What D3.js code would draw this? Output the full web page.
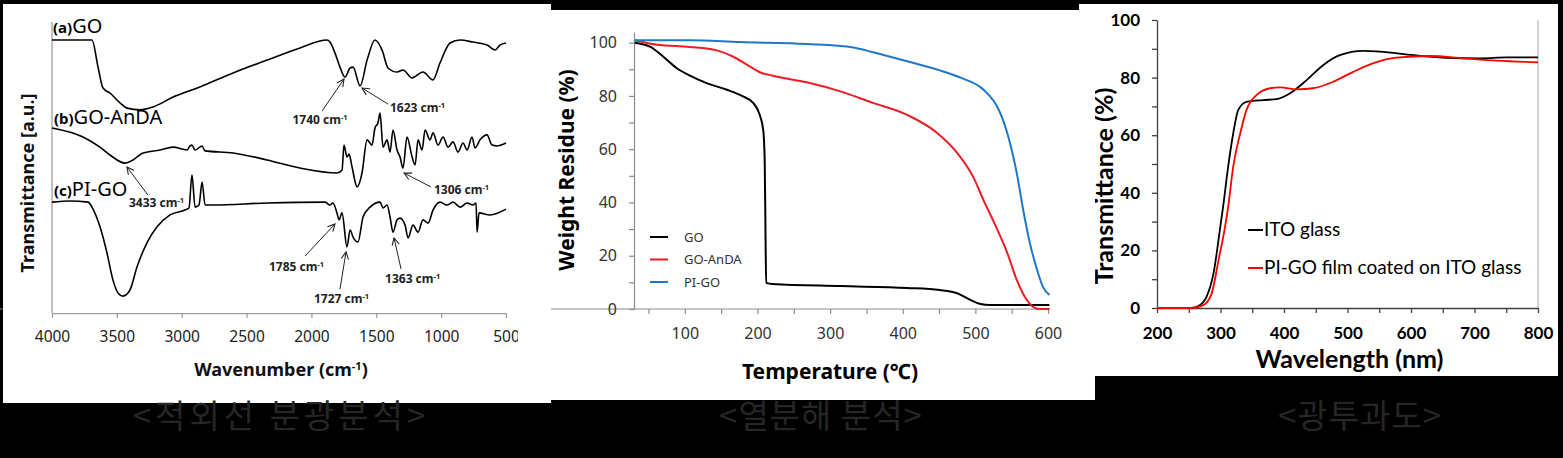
<!DOCTYPE html>
<html>
<head>
<meta charset="utf-8">
<script src="https://d3js.org/d3.v7.min.js"></script>
<style>
  body { margin: 0; background: #000; }
  svg { display: block; }
</style>
</head>
<body>
<svg id="fig" width="1563" height="458"></svg>
<script>
// ---------------- data ----------------
// FTIR spectra: [wavenumber (cm-1), transmittance (a.u., offset stack)]
var irGO = [[4000,93.8],[3692,93.8],[3645,84.5],[3607,77.3],[3553,75.6],[3476,72.2],[3422,70.4],
  [3322,69.8],[3221,70.8],[3067,74.2],[2859,77.7],[2604,82.5],[2342,86.9],[2088,91.1],[1880,93.8],
  [1857,93.1],[1818,89.3],[1780,84.5],[1741,81.1],[1702,84.2],[1679,84.5],[1625,78.0],[1571,86.9],
  [1510,93.8],[1456,90.4],[1409,84.2],[1340,82.8],[1294,83.5],[1224,80.8],[1140,82.8],[1063,80.1],
  [1009,85.9],[931,92.8],[854,93.8],[754,93.1],[646,92.1],[584,90.4],[546,92.1],[500,92.8]];
var irGOAnDA = [[4000,63.6],[3761,60.5],[3630,57.0],[3553,54.3],[3437,51.5],[3375,52.6],[3298,55.0],
  [3167,56.0],[3067,57.0],[2959,56.0],[2936,57.4],[2921,57.7],[2897,56.0],[2843,57.4],[2820,55.7],
  [2604,55.0],[2342,52.6],[2088,49.8],[1803,48.1],[1764,49.1],[1749,57.7],[1726,53.6],[1710,54.6],
  [1687,50.2],[1648,43.3],[1610,48.1],[1571,59.5],[1533,57.7],[1510,63.6],[1487,65.3],[1471,68.7],
  [1448,57.0],[1417,59.5],[1394,55.3],[1371,62.9],[1340,56.0],[1317,53.6],[1294,49.8],[1263,60.5],
  [1224,53.6],[1201,50.9],[1178,59.5],[1147,56.0],[1124,62.9],[1086,59.5],[1062,61.9],[1024,57.7],
  [985,60.5],[947,57.0],[908,58.8],[870,55.3],[831,58.4],[800,56.0],[762,60.5],[739,56.7],[700,59.5],
  [646,61.2],[608,57.7],[569,57.4],[500,58.4]];
var irPIGO = [[4000,38.1],[3861,38.5],[3722,38.1],[3692,36.4],[3630,29.6],[3576,20.6],[3530,11.3],
  [3491,6.9],[3453,5.8],[3399,7.9],[3345,15.8],[3268,24.1],[3190,29.6],[3090,33.7],[2975,35.4],
  [2944,36.1],[2921,47.4],[2897,36.4],[2867,37.1],[2843,45.0],[2820,37.1],[2759,37.1],[2342,37.8],
  [1895,38.1],[1857,37.1],[1834,37.8],[1803,34.4],[1787,32.0],[1764,34.4],[1726,22.7],[1702,28.5],
  [1679,26.1],[1641,24.4],[1602,33.0],[1548,36.4],[1471,38.1],[1448,36.1],[1417,37.1],[1394,33.0],
  [1371,27.8],[1340,32.0],[1317,32.6],[1278,30.2],[1255,25.8],[1217,30.2],[1178,27.8],[1140,32.0],
  [1101,30.9],[1062,35.4],[1009,38.1],[955,37.1],[908,38.1],[854,36.4],[800,37.8],[754,37.1],
  [731,37.8],[723,27.8],[708,34.4],[623,33.7],[500,35.7]];
var irTicks = [4000, 3500, 3000, 2500, 2000, 1500, 1000, 500];
// series labels: [part, name, wavenumber, a.u.]
var irLabels = [["(a)", "GO", 3992, 96.2], ["(b)", "GO-AnDA", 3985, 65.0], ["(c)", "PI-GO", 3985, 40.2]];
// peak notes: [peak, text wn, text au, arrow from wn, au, arrow to wn, au]
var irPeaks = [[1740, 1934, 65.0, 1918, 69.4, 1749, 80.4],
  [1623, 1182, 69.1, 1409, 71.8, 1610, 77.3],
  [3433, 3194, 36.4, 3260, 40.5, 3422, 50.2],
  [1306, 843, 40.9, 1078, 43.3, 1286, 48.1],
  [1785, 2115, 14.4, 2049, 19.6, 1818, 30.6],
  [1727, 1768, 3.4, 1780, 8.2, 1733, 21.0],
  [1363, 1220, 10.3, 1309, 15.1, 1363, 25.8]];

// TGA: [temperature (C), weight residue (%)]
var tgaGO = [[31,100],[52,98.5],[70,94.8],[89,90.4],[107,87.6],[130,84.8],[158,82.3],[180,79.8],
  [194,77.4],[203,73.0],[208,67.0],[210,55.0],[211,30.0],[212,9.8],[221,9.4],[314,8.6],[406,7.9],
  [451,7.1],[475,5.9],[493,3.4],[507,1.9],[520,1.5],[602,1.5]];
var tgaGOAnDA = [[31,100.9],[62,99.2],[107,98.4],[144,97.1],[166,94.8],[186,91.7],[204,88.8],
  [221,87.6],[268,85.1],[314,81.7],[359,77.4],[406,72.9],[447,66.2],[475,58.6],[497,49.6],
  [511,41.0],[524,33.5],[544,21.0],[557,10.9],[569,4.1],[578,1.1],[585,0.1],[602,0]];
var tgaPIGO = [[31,100.9],[107,100.9],[176,100.2],[268,99.5],[332,98.2],[359,96.4],[406,93.0],
  [451,89.6],[483,86.5],[507,83.3],[518,80.5],[530,76.0],[544,66.0],[557,51.0],[566,37.0],
  [575,24.8],[585,14.7],[593,8.3],[602,5.3]];
var tgaNames = ["GO", "GO-AnDA", "PI-GO"];
var tgaColors = ["#000000", "#ee1c25", "#1f78c6"];

// UV-Vis: [wavelength (nm), transmittance (%)]
var uvITO = [[200,0],[252,0],[265,0.7],[278,3.9],[289,12],[299,27],[304,35],[312,49],[320,60.6],
  [328,68.8],[341,71.6],[367,72.2],[388,72.5],[409,74.5],[436,79.2],[462,84.4],[488,87.8],
  [525,89.3],[551,89.0],[604,87.8],[656,86.9],[709,86.7],[751,87.0],[800,87.0]];
var uvPIGO = [[200,0],[255,0],[273,1],[286,5],[297,16.7],[307,28],[312,35],[320,49],[331,60.6],
  [341,68.8],[357,74],[378,76.3],[394,76.6],[420,75.9],[446,76.3],[478,78.6],[509,82],[541,85],
  [577,86.9],[630,87.5],[682,86.7],[735,85.9],[800,85.3]];
var uvNames = ["ITO glass", "PI-GO film coated on ITO glass"];
var uvColors = ["#000000", "#ff0000"];

var captions = ["<적외선 분광분석>", "<열분해 분석>", "<광투과도>"];

// ---------------- helpers ----------------
var KR = "'Noto Sans', 'Noto Sans CJK KR', sans-serif";
var CAL = "Lato, 'Open Sans', sans-serif";

var svg = d3.select("#fig");
svg.append("rect").attr("width", 1563).attr("height", 458).attr("fill", "#000");

var defs = svg.append("defs");
defs.append("marker").attr("id", "arrow")
  .attr("viewBox", "0 0 10 10").attr("refX", 9).attr("refY", 5)
  .attr("markerWidth", 9).attr("markerHeight", 9).attr("markerUnits", "userSpaceOnUse")
  .attr("orient", "auto")
  .append("path").attr("d", "M1,1 L9,5 L1,9").attr("fill", "none")
  .attr("stroke", "#222").attr("stroke-width", 1.2);
defs.append("clipPath").attr("id", "clip1")
  .append("rect").attr("x", 0).attr("y", 0).attr("width", 518).attr("height", 458);

function lineGen(x, y) {
  return d3.line().x(function(d){ return x(d[0]); }).y(function(d){ return y(d[1]); })
    .curve(d3.curveMonotoneX);
}

function cm(sel, txt) {
  sel.append("tspan").text(txt + " cm");
  sel.append("tspan").attr("dy", -4).attr("font-size", "0.62em").text("-1");
}

// ---------------- panel 3: UV-Vis ----------------
var p3 = svg.append("g");
p3.append("rect").attr("x", 1079).attr("y", 4).attr("width", 479).attr("height", 372).attr("fill", "#fff");

var x3 = d3.scaleLinear().domain([200, 800]).range([1157, 1538]);
var y3 = d3.scaleLinear().domain([0, 100]).range([308, 20]);

p3.append("line").attr("x1", x3(800)).attr("x2", x3(800)).attr("y1", y3(100)).attr("y2", y3(0))
  .attr("stroke", "#a6a6a6");

var ax3 = p3.append("g").attr("transform", "translate(0," + y3(0) + ")")
  .call(d3.axisBottom(x3).tickValues(d3.range(200, 801, 50)).tickSize(5).tickSizeOuter(0).tickPadding(14)
    .tickFormat(function(d){ return d % 100 === 0 ? d : ""; }));
var ay3 = p3.append("g").attr("transform", "translate(" + x3(200) + ",0)")
  .call(d3.axisLeft(y3).tickValues(d3.range(0, 101, 10)).tickSize(5).tickSizeOuter(0).tickPadding(12)
    .tickFormat(function(d){ return d % 20 === 0 ? d : ""; }));
[ax3, ay3].forEach(function(a){
  a.selectAll("path, line").attr("stroke", "#404040").attr("stroke-width", 1.3);
  a.selectAll("text").attr("font-family", CAL).attr("font-weight", 700).attr("font-size", 17)
    .attr("fill", "#000");
});

[uvITO, uvPIGO].forEach(function(s, i){
  p3.append("path").datum(s).attr("d", lineGen(x3, y3)).attr("fill", "none")
    .attr("stroke", uvColors[i]).attr("stroke-width", 1.8);
});

var lg3 = p3.selectAll(".lg3").data(uvNames).enter().append("g")
  .attr("transform", function(d, i){ return "translate(1248," + (236 + i * 38) + ")"; });
lg3.append("line").attr("x1", 0).attr("x2", 15).attr("y1", -6).attr("y2", -6)
  .attr("stroke", function(d, i){ return uvColors[i]; }).attr("stroke-width", 2);
lg3.append("text").attr("x", 16).attr("font-family", CAL).attr("font-size", 19).attr("fill", "#000")
  .text(function(d){ return d; });

p3.append("text").attr("x", (x3(200) + x3(800)) / 2 + 2).attr("y", 368).attr("text-anchor", "middle")
  .attr("font-family", CAL).attr("font-weight", 700).attr("font-size", 25).text("Wavelength (nm)");
p3.append("text").attr("transform", "translate(1113,186) rotate(-90)").attr("text-anchor", "middle")
  .attr("font-family", CAL).attr("font-weight", 700).attr("font-size", 25).text("Transmittance (%)");

// ---------------- panel 2: TGA ----------------
var p2 = svg.append("g");
p2.append("rect").attr("x", 551).attr("y", 10).attr("width", 544).attr("height", 390).attr("fill", "#fff");

var x2 = d3.scaleLinear().domain([30, 600]).range([634, 1048]);
var y2 = d3.scaleLinear().domain([0, 104]).range([309, 32]);

var ax2 = p2.append("g").attr("transform", "translate(0," + y2(0) + ")")
  .call(d3.axisBottom(x2).tickValues(d3.range(50, 601, 50)).tickSize(5).tickSizeOuter(0).tickPadding(14)
    .tickFormat(function(d){ return d % 100 === 0 ? d : ""; }));
var ay2 = p2.append("g").attr("transform", "translate(" + x2(30) + ",0)")
  .call(d3.axisLeft(y2).tickValues(d3.range(0, 101, 10)).tickSize(5).tickSizeOuter(0).tickPadding(12)
    .tickFormat(function(d){ return d % 20 === 0 ? d : ""; }));
[ax2, ay2].forEach(function(a){
  a.selectAll("path, line").attr("stroke", "#8c8c8c").attr("stroke-width", 1.2);
  a.selectAll("text").attr("font-family", KR).attr("font-size", 16).attr("fill", "#333");
});
ax2.select(".domain").attr("d", "M0,0H" + x2(602));

[tgaGO, tgaGOAnDA, tgaPIGO].forEach(function(s, i){
  p2.append("path").datum(s).attr("d", lineGen(x2, y2)).attr("fill", "none")
    .attr("stroke", tgaColors[i]).attr("stroke-width", 2);
});

var lg2 = p2.selectAll(".lg2").data(tgaNames).enter().append("g")
  .attr("transform", function(d, i){ return "translate(650," + (237 + i * 22.5) + ")"; });
lg2.append("line").attr("x1", 0).attr("x2", 18).attr("stroke-width", 2)
  .attr("stroke", function(d, i){ return tgaColors[i]; });
lg2.append("text").attr("x", 34).attr("dy", "0.36em").attr("font-family", KR).attr("font-size", 13)
  .attr("fill", "#333").text(function(d){ return d; });

p2.append("text").attr("x", 830).attr("y", 379).attr("text-anchor", "middle")
  .attr("font-family", KR).attr("font-weight", 700).attr("font-size", 21).text("Temperature (℃)");
p2.append("text").attr("transform", "translate(574,170) rotate(-90)").attr("text-anchor", "middle")
  .attr("font-family", KR).attr("font-weight", 700).attr("font-size", 21).text("Weight Residue (%)");

// ---------------- panel 1: FTIR ----------------
var p1 = svg.append("g");
p1.append("rect").attr("x", 3).attr("y", 4).attr("width", 548).attr("height", 399).attr("fill", "#fff");

var x1 = d3.scaleLinear().domain([4000, 500]).range([52, 506]);
var y1 = d3.scaleLinear().domain([0, 100]).range([313, 22]);

p1.append("line").attr("x1", x1(4000)).attr("x2", x1(4000)).attr("y1", y1(100)).attr("y2", y1(0))
  .attr("stroke", "#a0a0a0").attr("stroke-width", 1.3);
var ax1 = p1.append("g").attr("clip-path", "url(#clip1)").attr("transform", "translate(0," + y1(0) + ")")
  .call(d3.axisBottom(x1).tickValues(irTicks).tickSize(5).tickSizeOuter(0).tickPadding(13)
    .tickFormat(d3.format("d")));
ax1.selectAll("path, line").attr("stroke", "#a0a0a0").attr("stroke-width", 1.3);
ax1.selectAll("text").attr("font-family", KR).attr("font-size", 15.5).attr("fill", "#222");

[irGO, irGOAnDA, irPIGO].forEach(function(s){
  p1.append("path").datum(s).attr("d", lineGen(x1, y1)).attr("fill", "none")
    .attr("stroke", "#000").attr("stroke-width", 1.6).attr("stroke-linejoin", "round");
});

var lab1 = p1.selectAll(".lab1").data(irLabels).enter().append("text")
  .attr("x", function(d){ return x1(d[2]); }).attr("y", function(d){ return y1(d[3]); })
  .attr("font-family", KR).attr("fill", "#000");
lab1.append("tspan").attr("font-weight", 700).attr("font-size", 15).text(function(d){ return d[0]; });
lab1.append("tspan").attr("font-size", 20).text(function(d){ return d[1]; });

var pk = p1.selectAll(".pk").data(irPeaks).enter().append("g");
pk.append("line")
  .attr("x1", function(d){ return x1(d[3]); }).attr("y1", function(d){ return y1(d[4]); })
  .attr("x2", function(d){ return x1(d[5]); }).attr("y2", function(d){ return y1(d[6]); })
  .attr("stroke", "#222").attr("stroke-width", 1).attr("marker-end", "url(#arrow)");
pk.append("text").attr("x", function(d){ return x1(d[1]); }).attr("y", function(d){ return y1(d[2]); })
  .attr("text-anchor", "middle").attr("font-family", KR).attr("font-weight", 700).attr("font-size", 12)
  .attr("fill", "#222")
  .each(function(d){ cm(d3.select(this), d[0]); });

var xt1 = p1.append("text").attr("x", 281).attr("y", 376).attr("text-anchor", "middle")
  .attr("font-family", KR).attr("font-weight", 700).attr("font-size", 18).attr("fill", "#111");
xt1.append("tspan").text("Wavenumber (cm");
xt1.append("tspan").attr("dy", -6).attr("font-size", 11).text("-1");
xt1.append("tspan").attr("dy", 6).text(")");
p1.append("text").attr("transform", "translate(34,183) rotate(-90)").attr("text-anchor", "middle")
  .attr("font-family", KR).attr("font-weight", 700).attr("font-size", 18).attr("fill", "#111")
  .text("Transmittance [a.u.]");

// ---------------- captions ----------------
var capX = [281, 821, 1360];
svg.selectAll(".cap").data(captions).enter().append("text")
  .attr("x", function(d, i){ return capX[i]; }).attr("y", 428).attr("text-anchor", "middle")
  .attr("font-family", "'Noto Sans CJK KR', sans-serif").attr("font-size", 33)
  .attr("fill", "#262626").attr("letter-spacing", function(d, i){ return i === 0 ? 4 : 1; })
  .text(function(d){ return d; });
</script>
</body>
</html>
